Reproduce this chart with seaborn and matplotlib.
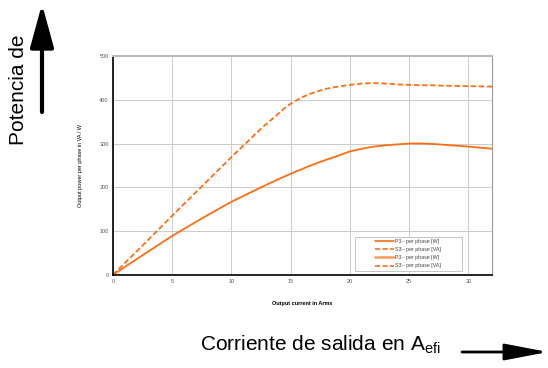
import numpy as np
import pandas as pd
import seaborn as sns
import matplotlib.pyplot as plt
from matplotlib.lines import Line2D
from matplotlib.patches import Rectangle

# Output power per phase vs output current
current = [0, 2.5, 5, 7.5, 10, 12.5, 14, 14.5, 15, 15.5, 16, 16.5, 17, 17.5, 18, 19, 20,
           21, 22, 23, 24, 25, 26, 27, 28, 30, 32]
p3_watts = [0, 45, 89, 129, 167, 200, 219, 225, 231, 237, 242, 248, 253, 258, 263, 272, 282,
            288, 293, 296, 298, 300, 300, 299, 297, 293, 288]
s3_va = [0, 67, 135, 202, 269, 334, 369, 381, 391, 399, 406, 412, 417, 421, 425, 430, 434,
         437, 438, 437, 435, 434, 433, 433, 432, 431, 430]

legend_labels = ['P3~ per phase [W]', 'S3~ per phase [VA]', 'P3~ per phase [W]', 'S3~ per phase [VA]']

orange = '#ff6d14'
light_orange = '#ff9a55'

sns.set_theme(style='whitegrid')
plt.rcParams['font.family'] = ['Liberation Sans', 'DejaVu Sans']
plt.rcParams['mathtext.fontset'] = 'custom'
plt.rcParams['mathtext.rm'] = 'Liberation Sans'

df = pd.DataFrame({'I': current, 'P3': p3_watts, 'S3': s3_va})

fig = plt.figure(figsize=(5.48, 3.68), dpi=100)
ax = fig.add_axes([0.206, 0.253, 0.692, 0.595])

sns.lineplot(data=df, x='I', y='P3', color=orange, lw=1.3, ax=ax)
sns.lineplot(data=df, x='I', y='S3', color=orange, lw=1.3, ls=(0, (3, 1.5)), ax=ax)

ax.set_xlim(0, 32)
ax.set_ylim(0, 500)
ax.set_xticks([0, 5, 10, 15, 20, 25, 30])
ax.set_yticks([0, 100, 200, 300, 400, 500])
ax.tick_params(labelsize=4, colors='#555555', length=0, pad=3)
ax.grid(color='#cccccc', lw=0.7)
ax.set_facecolor('white')

for side in ['left', 'bottom']:
    ax.spines[side].set_color('black')
    ax.spines[side].set_linewidth(1.2)
ax.spines['top'].set_color('#bbbbbb')
ax.spines['top'].set_linewidth(1.5)
ax.spines['right'].set_color('#999999')
ax.spines['right'].set_linewidth(0.8)

ax.set_xlabel('Output current in Arms', fontsize=4, fontweight='bold', labelpad=12, color='black')
ax.set_ylabel('Output power per phase in VA / W', fontsize=4, labelpad=12, color='black')

# legend: frame drawn as a box, entries centred inside it
ax.add_patch(Rectangle((0.639, 0.0196), 0.282, 0.155, transform=ax.transAxes,
                       facecolor='white', edgecolor='#bbbbbb', lw=0.6, zorder=4))
handles = [
    Line2D([], [], color=orange, lw=1.2),
    Line2D([], [], color=orange, lw=1.2, ls=(0, (3, 1.5))),
    Line2D([], [], color=light_orange, lw=1.8),
    Line2D([], [], color=orange, lw=1.2, ls=(0, (3, 1.5))),
]
leg = ax.legend(handles, legend_labels, fontsize=3.8, loc='center',
                bbox_to_anchor=(0.778, 0.097), frameon=False,
                handlelength=3.6, handletextpad=0.15,
                borderpad=0, labelspacing=0.6, borderaxespad=0)
leg.set_zorder(5)
for t in leg.get_texts():
    t.set_color('#444444')

# Big Spanish labels with arrows
fig.text(0.033, 0.606, 'Potencia de', rotation=90, fontsize=15,
         ha='center', va='bottom', color='black')
fig.text(0.365, 0.032, 'Corriente de salida en A$_{\\mathrm{efi}}$', fontsize=15,
         ha='left', va='bottom', color='black')

ax.annotate('', xy=(42, 364), xytext=(42, 256), xycoords='figure pixels',
            textcoords='figure pixels',
            arrowprops=dict(arrowstyle='-|>,head_length=2.2,head_width=0.6',
                            lw=3, color='black', shrinkA=0, shrinkB=0))
ax.annotate('', xy=(548, 16), xytext=(462, 16), xycoords='figure pixels',
            textcoords='figure pixels',
            arrowprops=dict(arrowstyle='-|>,head_length=2.2,head_width=0.42',
                            lw=2, color='black', shrinkA=0, shrinkB=0))

fig.savefig('out.png', dpi=100, facecolor='white')
